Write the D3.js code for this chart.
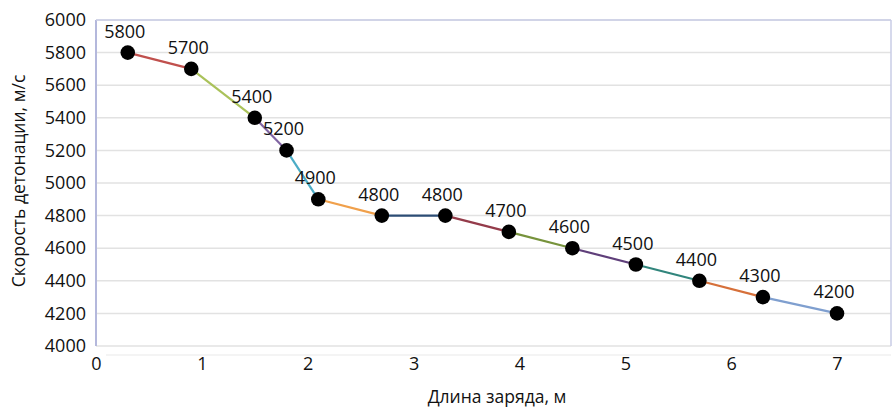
<!DOCTYPE html>
<html><head><meta charset="utf-8">
<script src="https://cdn.jsdelivr.net/npm/d3@7"></script>
<style>body{margin:0;background:#fff;} text{font-family:"Open Sans",sans-serif;fill:#111;}</style>
</head><body><svg id="c" width="895" height="410"></svg>
<script>
const lengths = [0.3, 0.9, 1.5, 1.8, 2.1, 2.7, 3.3, 3.9, 4.5, 5.1, 5.7, 6.3, 7.0];
const speeds = [5800, 5700, 5400, 5200, 4900, 4800, 4800, 4700, 4600, 4500, 4400, 4300, 4200];
const segmentColors = ["#c0504d","#aac25a","#8064a2","#4bacc6","#f0a04b","#2c4d75","#943b4a","#77933c","#5f3f7a","#31857c","#d6703a","#7f9fcf"];
const xTicks = [0,1,2,3,4,5,6,7];
const yTicks = [4000,4200,4400,4600,4800,5000,5200,5400,5600,5800,6000];
const xTitle = "Длина заряда, м";
const yTitle = "Скорость детонации, м/с";

const svg = d3.select("#c");
const L = 96, R = 891, T = 20, B = 346;
const x = d3.scaleLinear().domain([0,7]).range([L, 837]);
const y = d3.scaleLinear().domain([4000,6000]).range([B, T]);
const fs = "18px";

// gridlines
svg.append("g").selectAll("line").data(yTicks).join("line")
  .attr("x1", L).attr("x2", R).attr("y1", d=>y(d)).attr("y2", d=>y(d))
  .attr("stroke", "#e2e2e2").attr("stroke-width", 1.5);
svg.append("line").attr("x1",L+10).attr("x2",R).attr("y1",B+9).attr("y2",B+9).attr("stroke","#f0f0f0").attr("stroke-width",1.5);
// borders
svg.append("line").attr("x1",L).attr("x2",L).attr("y1",T).attr("y2",B).attr("stroke","#b4b8dc").attr("stroke-width",2);
svg.append("line").attr("x1",L).attr("x2",R).attr("y1",T).attr("y2",T).attr("stroke","#c8cce6").attr("stroke-width",1.5);
svg.append("line").attr("x1",R).attr("x2",R).attr("y1",T).attr("y2",B).attr("stroke","#c8cce6").attr("stroke-width",1.5);

// axes
const yAxis = d3.axisLeft(y).tickValues(yTicks).tickFormat(d3.format("d")).tickSize(0).tickPadding(10);
const gy = svg.append("g").attr("transform",`translate(${L},0)`).call(yAxis);
gy.select(".domain").remove();
gy.selectAll("text").style("font-size", fs).style("font-family","'Open Sans',sans-serif").attr("fill","#111");
const xAxis = d3.axisBottom(x).tickValues(xTicks).tickFormat(d3.format("d")).tickSize(0).tickPadding(11);
const gx = svg.append("g").attr("transform",`translate(0,${B})`).call(xAxis);
gx.select(".domain").remove();
gx.selectAll("text").style("font-size", fs).style("font-family","'Open Sans',sans-serif").attr("fill","#111");

// titles
svg.append("text").attr("x", 497).attr("y", 403).attr("text-anchor","middle").style("font-size", "17.5px").text(xTitle);
svg.append("text").attr("transform","translate(25,181) rotate(-90)").attr("text-anchor","middle").style("font-size", "17.5px").text(yTitle);

// segments
const pts = lengths.map((d,i)=>({x:d, y:speeds[i]}));
svg.append("g").selectAll("line").data(d3.pairs(pts)).join("line")
  .attr("x1", d=>x(d[0].x)).attr("y1", d=>y(d[0].y))
  .attr("x2", d=>x(d[1].x)).attr("y2", d=>y(d[1].y))
  .attr("stroke", (d,i)=>segmentColors[i]).attr("stroke-width", 2.2);
// markers
svg.append("g").selectAll("circle").data(pts).join("circle")
  .attr("cx", d=>x(d.x)).attr("cy", d=>y(d.y)).attr("r", 7.3).attr("fill","#000");
// labels
svg.append("g").selectAll("text").data(pts).join("text")
  .attr("x", d=>x(d.x)-3).attr("y", d=>y(d.y)-15)
  .attr("text-anchor","middle").style("font-size", fs).text(d=>d.y);
</script></body></html>
